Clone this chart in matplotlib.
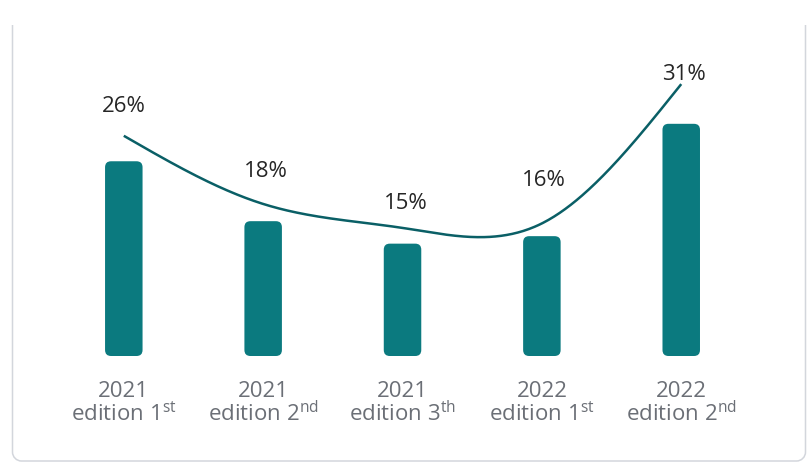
import numpy as np
import matplotlib
matplotlib.use("Agg")
import matplotlib.pyplot as plt
from matplotlib.patches import FancyBboxPatch, PathPatch
from matplotlib.path import Path

# ---- data ----
years = ["2021", "2021", "2021", "2022", "2022"]
editions = ["1", "2", "3", "1", "2"]
suffixes = ["st", "nd", "th", "st", "nd"]
values = [26, 18, 15, 16, 31]            # bar values (%)
value_labels = ["26%", "18%", "15%", "16%", "31%"]
trend = [29.4, 20.3, 17.1, 17.7, 36.3]   # smooth trend line values

# ---- style / layout ----
plt.rcParams["font.family"] = ["Open Sans", "DejaVu Sans"]
plt.rcParams["mathtext.fontset"] = "custom"
plt.rcParams["mathtext.rm"] = "Open Sans"
plt.rcParams["mathtext.it"] = "Open Sans:italic"
plt.rcParams["mathtext.bf"] = "Open Sans:bold"

W, H, DPI = 807, 464, 100
BAR_C = "#0b7a7f"
LINE_C = "#0a5f66"
LBL_C = "#262626"
TICK_C = "#6b6f76"
FS = 16

x0_px, step_px = 123.8, 139.36       # category centre positions in pixels
base_px = H - 357                     # baseline height from bottom (px)
ppu = 7.49                            # pixels per percent
bar_w = 37.5 / step_px
label_dx = [0, 3, 3, 2, 3]           # pixel nudges of value labels
label_dy = [50, 45, 36, 51, 45]

fig = plt.figure(figsize=(W / DPI, H / DPI), dpi=DPI)
ax = fig.add_axes([0, 0, 1, 1])
ax.set_xlim(-x0_px / step_px, (W - x0_px) / step_px)
ax.set_ylim(-base_px / ppu, (H - base_px) / ppu)
ax.axis("off")

x = np.arange(len(values))

# rounded bars
r = 6 / step_px
aspect = step_px / ppu
for xi, v in zip(x, values):
    p = FancyBboxPatch((xi - bar_w / 2, 0), bar_w, v,
                       boxstyle=f"round,pad=0,rounding_size={r}",
                       mutation_aspect=aspect, fc=BAR_C, ec="none", zorder=2)
    ax.add_patch(p)

# natural cubic spline through trend values (uniform spacing)
def natural_spline(y, n=400):
    y = np.asarray(y, float)
    N = len(y)
    A = np.zeros((N, N))
    b = np.zeros(N)
    A[0, 0], A[0, 1], b[0] = 2, 1, 3 * (y[1] - y[0])
    A[-1, -2], A[-1, -1], b[-1] = 1, 2, 3 * (y[-1] - y[-2])
    for i in range(1, N - 1):
        A[i, i - 1], A[i, i], A[i, i + 1] = 1, 4, 1
        b[i] = 3 * (y[i + 1] - y[i - 1])
    m = np.linalg.solve(A, b)
    xs = np.linspace(0, N - 1, n)
    seg = np.minimum(xs.astype(int), N - 2)
    t = xs - seg
    h00 = 2 * t**3 - 3 * t**2 + 1
    h10 = t**3 - 2 * t**2 + t
    h01 = -2 * t**3 + 3 * t**2
    h11 = t**3 - t**2
    ys = h00 * y[seg] + h10 * m[seg] + h01 * y[seg + 1] + h11 * m[seg + 1]
    return xs, ys

xs, ys = natural_spline(trend)
ax.plot(xs, ys, color=LINE_C, lw=1.8, solid_capstyle="butt", zorder=3)

# value labels
for xi, v, lab, dx, dy in zip(x, values, value_labels, label_dx, label_dy):
    ax.annotate(lab, (xi, v), xytext=(dx, dy), textcoords="offset pixels",
                ha="center", va="baseline", fontsize=FS, color=LBL_C, zorder=4)

# category labels
y_year = (H - 397 - base_px) / ppu
y_ed = (H - 421 - base_px) / ppu
for xi, yr, ed, sf in zip(x, years, editions, suffixes):
    ax.text(xi, y_year, yr, ha="center", va="baseline", fontsize=FS, color=TICK_C)
    ax.text(xi, y_ed, f"edition {ed}$^{{\\mathrm{{{sf}}}}}$", ha="center",
            va="baseline", fontsize=FS, color=TICK_C)

# card border (left, bottom, right edges with rounded corners)
L, R, T, B, rad = 12.5, 805.5, 26, 462, 9
k = 0.5523 * rad
pts = [(L, T), (L, B - rad),
       (L, B - rad + k), (L + rad - k, B), (L + rad, B),
       (R - rad, B),
       (R - rad + k, B), (R, B - rad + k), (R, B - rad),
       (R, T)]
codes = [Path.MOVETO, Path.LINETO,
         Path.CURVE4, Path.CURVE4, Path.CURVE4,
         Path.LINETO,
         Path.CURVE4, Path.CURVE4, Path.CURVE4,
         Path.LINETO]
verts = [(px / DPI, (H - py) / DPI) for px, py in pts]
border = PathPatch(Path(verts, codes), fill=False, ec="#d3d6dc", lw=1.1,
                   transform=fig.dpi_scale_trans)
fig.add_artist(border)

fig.savefig("out.png", dpi=DPI)
